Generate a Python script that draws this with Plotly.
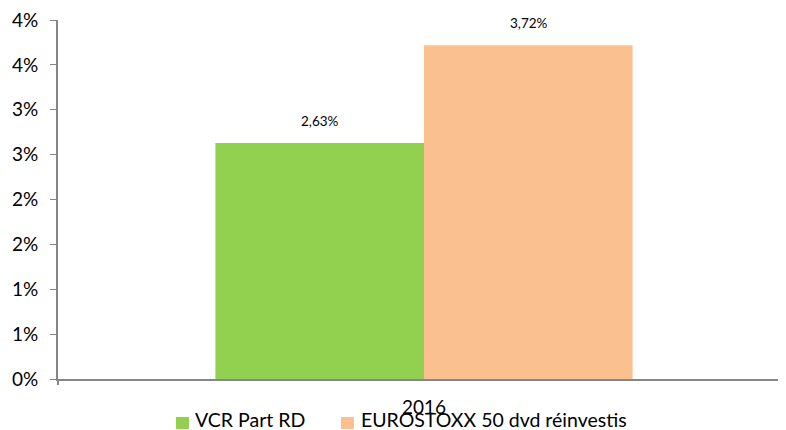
import plotly.graph_objects as go

categories = ["2016"]
series_names = ["VCR Part RD", "EUROSTOXX 50 dvd réinvestis"]
series_values = [[0.0263], [0.0372]]
series_labels = ["2,63%", "3,72%"]
colors = ["#92D050", "#FAC090"]
tick_vals = [0, 0.005, 0.01, 0.015, 0.02, 0.025, 0.03, 0.035, 0.04]
tick_text = ["0%", "1%", "1%", "2%", "2%", "3%", "3%", "4%", "4%"]

FONT = "Lato"
fig = go.Figure()
for name, vals, col in zip(series_names, series_values, colors):
    fig.add_trace(go.Bar(x=categories, y=vals, name=name, showlegend=False,
                         marker=dict(color=col, line=dict(width=0))))

offsets = [-104.5, 104.5]
for lab, vals, off in zip(series_labels, series_values, offsets):
    fig.add_annotation(x=0, xref="x", yref="y", y=vals[0], text=lab, showarrow=False,
                       xshift=off, yshift=12, yanchor="bottom",
                       font=dict(family=FONT, size=13.5, color="#000000"))

# manual legend (paper coordinates)
legend_x = [(0.1621, 0.1799, 0.1854), (0.3887, 0.4066, 0.4135)]
for name, col, (x0, x1, xt) in zip(series_names, colors, legend_x):
    fig.add_shape(type="rect", xref="paper", yref="paper", x0=x0, x1=x1,
                  y0=-0.1393, y1=-0.1058, fillcolor=col, line=dict(width=0))
    fig.add_annotation(xref="paper", yref="paper", x=xt, y=-0.1142, text=name,
                       showarrow=False, xanchor="left", yanchor="middle",
                       font=dict(family=FONT, size=19.5, color="#000000"))

fig.update_layout(
    width=778, height=422,
    margin=dict(l=50, r=0, t=12, b=51, autoexpand=False),
    paper_bgcolor="white", plot_bgcolor="white",
    barmode="group", bargap=0.43, bargroupgap=0,
    separators=",.",
    font=dict(family=FONT, size=18, color="#000000"),
    showlegend=False,
    xaxis=dict(type="category", showline=True, linecolor="#868686", linewidth=2, ticks="",
               showgrid=False, zeroline=False, range=[-0.5, 0.4945], automargin=False,
               ticklabelstandoff=10,
               tickfont=dict(family=FONT, size=19)),
    yaxis=dict(range=[0, 0.04], tickvals=tick_vals, ticktext=tick_text, automargin=False,
               showline=True, linecolor="#868686", linewidth=2, ticks="outside",
               ticklen=6, tickcolor="#868686", showgrid=False, zeroline=False,
               ticklabelstandoff=8, ticklabeloverflow="allow",
               tickfont=dict(family=FONT, size=19)),
)
fig.add_shape(type="line", xref="paper", yref="paper", x0=0, x1=0, y0=0, y1=-0.017,
              line=dict(color="#868686", width=2))
fig.write_html("out.html")
